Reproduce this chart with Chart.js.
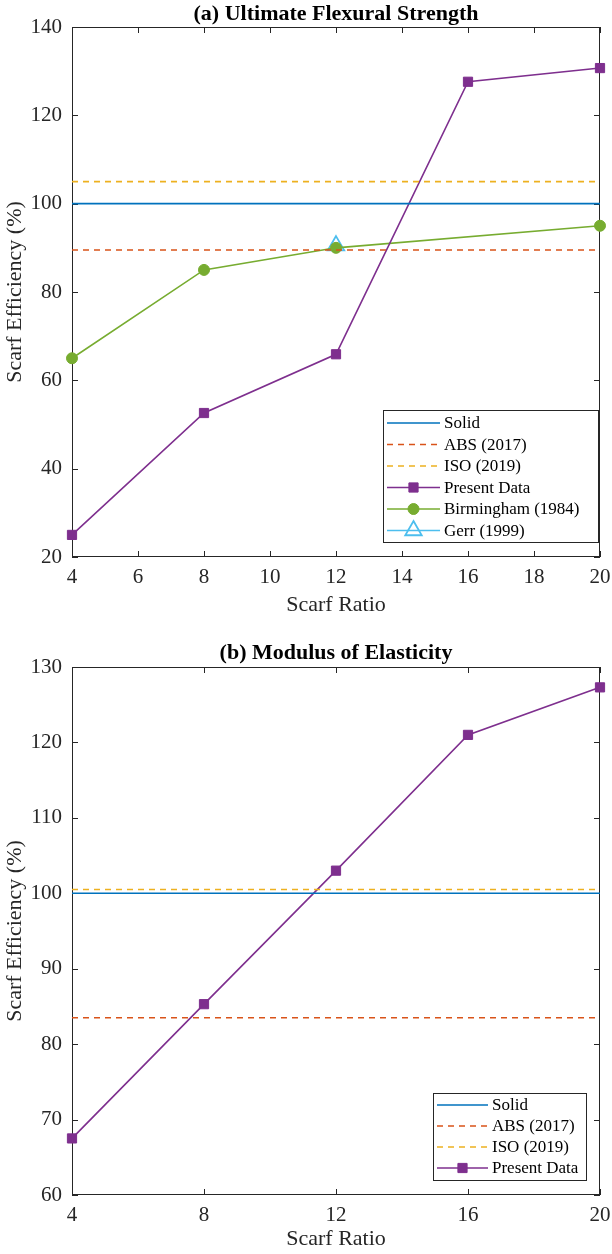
<!DOCTYPE html>
<html>
<head>
<meta charset="utf-8">
<script src="https://cdn.jsdelivr.net/npm/chart.js@4"></script>
<style>
  body { margin: 0; background: #fff; }
  #wrap { position: relative; width: 612px; height: 1254px; }
  canvas { position: absolute; left: 0; }
</style>
</head>
<body>
<div id="wrap">
  <canvas id="chartA" width="612" height="620" style="top:0"></canvas>
  <canvas id="chartB" width="612" height="634" style="top:620px"></canvas>
</div>
<script>
// (a) Ultimate Flexural Strength
const ratiosA = [4, 8, 12, 16, 20];
const presentA = [25, 52.6, 65.9, 127.6, 130.7];
const birminghamRatios = [4, 8, 12, 20];
const birminghamA = [65, 85, 90, 95];
const gerrRatios = [12];
const gerrA = [90.5];
const solidA = 100, absA = 89.5, isoA = 105;
const xTicksA = [4, 6, 8, 10, 12, 14, 16, 18, 20];
const yTicksA = [20, 40, 60, 80, 100, 120, 140];

// (b) Modulus of Elasticity
const ratiosB = [4, 8, 12, 16, 20];
const presentB = [67.5, 85.3, 103, 121, 127.3];
const solidB = 100, absB = 83.5, isoB = 100.5;
const xTicksB = [4, 8, 12, 16, 20];
const yTicksB = [60, 70, 80, 90, 100, 110, 120, 130];

const FONT = "'Liberation Serif', 'Times New Roman', serif";
const INK = '#262626';

function pts(xs, ys) {
    return xs.map((x, i) => ({x: x, y: ys[i]}));
}
function hline(v, xs) {
    return [{x: xs[0], y: v}, {x: xs[xs.length - 1], y: v}];
}

function refLines(solid, abs, iso, xs) {
    return [
        {label: 'Solid', data: hline(solid, xs), borderColor: '#0072BD', borderWidth: 1.6, pointRadius: 0},
        {label: 'ABS (2017)', data: hline(abs, xs), borderColor: '#D95319', borderWidth: 1.6, borderDash: [6, 5], pointRadius: 0},
        {label: 'ISO (2019)', data: hline(iso, xs), borderColor: '#EDB120', borderWidth: 1.6, borderDash: [6, 5], pointRadius: 0}
    ];
}

function presentSet(xs, ys) {
    return {label: 'Present Data', data: pts(xs, ys), borderColor: '#7E2F8E', backgroundColor: '#7E2F8E',
        borderWidth: 1.6, pointStyle: 'rect', pointRadius: 6.5, pointBorderWidth: 1};
}

// box round the plot with inward ticks, like the original
const boxPlugin = {
    id: 'axisBox',
    beforeDatasetsDraw(chart) {
        const {ctx, chartArea: a, scales} = chart;
        ctx.save();
        ctx.strokeStyle = INK;
        ctx.lineWidth = 1;
        ctx.strokeRect(a.left + 0.5, a.top + 0.5, a.right - a.left - 1, a.bottom - a.top - 1);
        ctx.beginPath();
        scales.x.ticks.forEach(t => {
            const px = Math.round(scales.x.getPixelForValue(t.value)) + 0.5;
            ctx.moveTo(px, a.bottom); ctx.lineTo(px, a.bottom - 6);
            ctx.moveTo(px, a.top); ctx.lineTo(px, a.top + 6);
        });
        scales.y.ticks.forEach(t => {
            const py = Math.round(scales.y.getPixelForValue(t.value)) + 0.5;
            ctx.moveTo(a.left, py); ctx.lineTo(a.left + 6, py);
            ctx.moveTo(a.right, py); ctx.lineTo(a.right - 6, py);
        });
        ctx.stroke();
        ctx.restore();
    }
};

const titlePlugin = {
    id: 'topTitle',
    afterDraw(chart, args, opts) {
        const {ctx, chartArea: a} = chart;
        ctx.save();
        ctx.font = 'bold 22px ' + FONT;
        ctx.fillStyle = '#000';
        ctx.textAlign = 'center';
        ctx.textBaseline = 'middle';
        ctx.fillText(opts.text, (a.left + a.right) / 2, opts.y);
        ctx.restore();
    }
};

const legendPlugin = {
    id: 'boxLegend',
    afterDraw(chart, args, o) {
        const ctx = chart.ctx;
        ctx.save();
        ctx.fillStyle = '#fff';
        ctx.fillRect(o.x, o.y, o.w, o.h);
        ctx.strokeStyle = INK;
        ctx.lineWidth = 1;
        ctx.strokeRect(o.x + 0.5, o.y + 0.5, o.w, o.h);
        chart.data.datasets.forEach((ds, i) => {
            const y = o.y + o.first + i * o.step;
            const x0 = o.x + 4, x1 = o.x + 4 + o.line;
            ctx.strokeStyle = ds.borderColor;
            ctx.lineWidth = ds.borderWidth;
            ctx.setLineDash(ds.borderDash || []);
            ctx.beginPath();
            ctx.moveTo(x0, y); ctx.lineTo(x1, y);
            ctx.stroke();
            ctx.setLineDash([]);
            if (ds.pointRadius) {
                ctx.fillStyle = ds.backgroundColor;
                ctx.strokeStyle = ds.borderColor;
                ctx.lineWidth = ds.pointBorderWidth || ds.borderWidth;
                Chart.helpers.drawPoint(ctx, {
                    pointStyle: ds.pointStyle, rotation: 0, radius: ds.pointRadius,
                    borderWidth: ds.pointBorderWidth || ds.borderWidth
                }, (x0 + x1) / 2, y);
            }
            ctx.fillStyle = '#000';
            ctx.font = '17px ' + FONT;
            ctx.textBaseline = 'middle';
            ctx.textAlign = 'left';
            ctx.fillText(ds.label, x1 + 4, y + 1);
        });
        ctx.restore();
    }
};

function makeOptions(xTicks, yTicks, pad, xHeight, title, legend) {
    return {
        responsive: false,
        animation: false,
        devicePixelRatio: 1,
        layout: {padding: pad},
        elements: {line: {tension: 0}},
        plugins: {
            legend: {display: false},
            tooltip: {enabled: false},
            topTitle: title,
            boxLegend: legend
        },
        scales: {
            x: {
                type: 'linear',
                min: xTicks[0],
                max: xTicks[xTicks.length - 1],
                afterBuildTicks: s => { s.ticks = xTicks.map(v => ({value: v})); },
                afterFit: s => { s.height = xHeight; s.paddingLeft = 0; s.paddingRight = 0; },
                grid: {display: false, drawTicks: false},
                border: {display: false},
                ticks: {color: INK, font: {family: FONT, size: 21}, padding: 8, maxRotation: 0},
                title: {display: true, text: 'Scarf Ratio', color: INK, font: {family: FONT, size: 22}, padding: {top: 0, bottom: 2}}
            },
            y: {
                min: yTicks[0],
                max: yTicks[yTicks.length - 1],
                afterBuildTicks: s => { s.ticks = yTicks.map(v => ({value: v})); },
                afterFit: s => { s.width = 72; s.paddingTop = 0; s.paddingBottom = 0; },
                grid: {display: false, drawTicks: false},
                border: {display: false},
                ticks: {color: INK, font: {family: FONT, size: 21}, padding: 10},
                title: {display: true, text: 'Scarf Efficiency (%)', color: INK, font: {family: FONT, size: 22}, padding: {top: 2, bottom: 0}}
            }
        }
    };
}

new Chart(document.getElementById('chartA'), {
    type: 'line',
    data: {
        datasets: refLines(solidA, absA, isoA, xTicksA).concat([
            presentSet(ratiosA, presentA),
            {label: 'Birmingham (1984)', data: pts(birminghamRatios, birminghamA), borderColor: '#77AC30',
                backgroundColor: '#77AC30', borderWidth: 1.6, pointStyle: 'circle', pointRadius: 5.5, pointBorderWidth: 1},
            {label: 'Gerr (1999)', data: pts(gerrRatios, gerrA), borderColor: '#4DBEEE',
                backgroundColor: 'rgba(255,255,255,0)', borderWidth: 1.6, showLine: false,
                pointStyle: 'triangle', pointRadius: 9.5, pointBorderWidth: 1.8}
        ]).map(d => Object.assign({clip: false}, d))
    },
    options: makeOptions(xTicksA, yTicksA, {top: 27, right: 12, bottom: 0, left: 0}, 63,
        {text: '(a) Ultimate Flexural Strength', y: 14},
        {x: 383, y: 410, w: 215, h: 132, first: 13, step: 21.5, line: 53}),
    plugins: [boxPlugin, titlePlugin, legendPlugin]
});

new Chart(document.getElementById('chartB'), {
    type: 'line',
    data: {
        datasets: refLines(solidB, absB, isoB, xTicksB).concat([
            presentSet(ratiosB, presentB)
        ]).map(d => Object.assign({clip: false}, d))
    },
    options: makeOptions(xTicksB, yTicksB, {top: 47, right: 12, bottom: 0, left: 0}, 59,
        {text: '(b) Modulus of Elasticity', y: 33},
        {x: 433, y: 473, w: 153, h: 87, first: 12, step: 21, line: 51}),
    plugins: [boxPlugin, titlePlugin, legendPlugin]
});
</script>
</body>
</html>
